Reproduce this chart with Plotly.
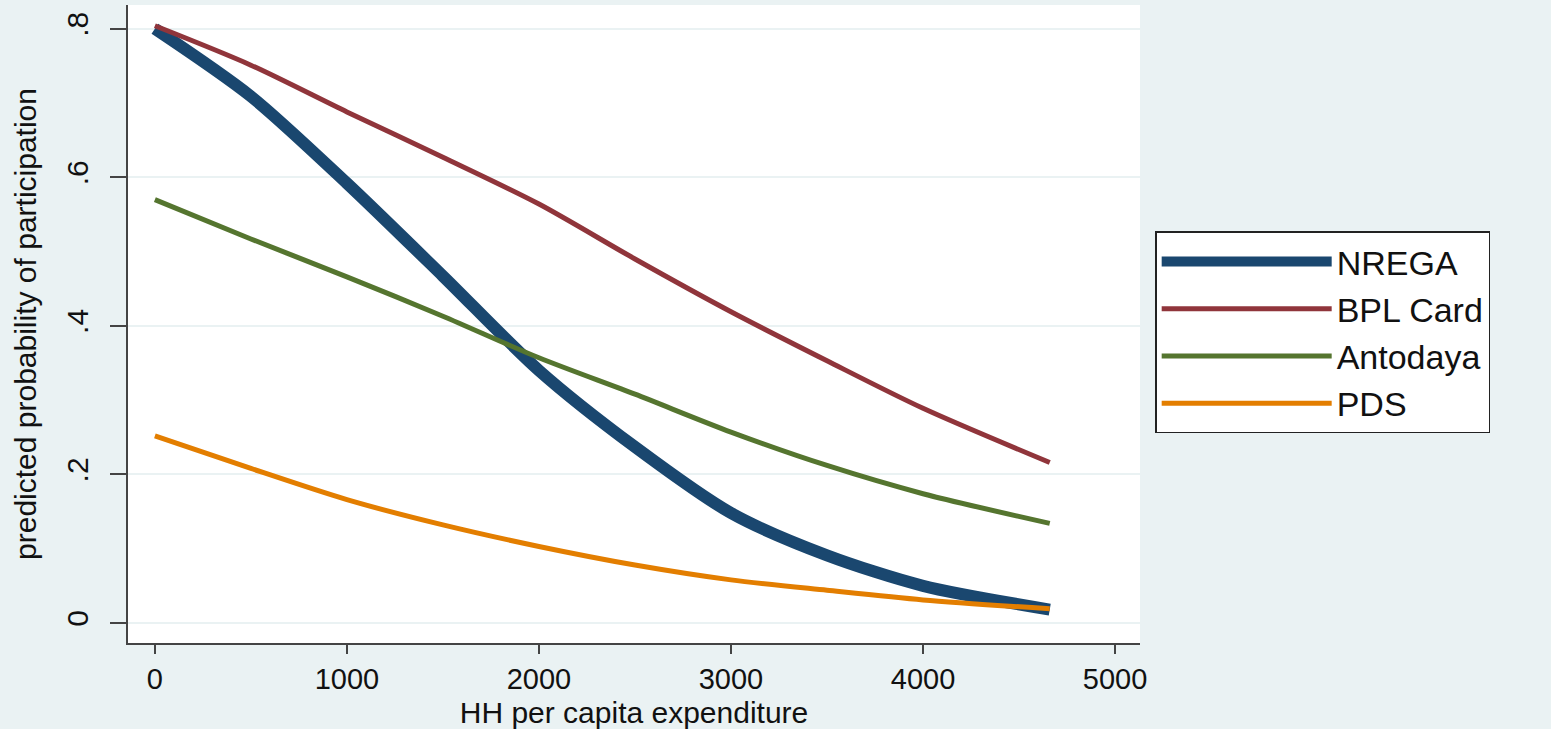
import plotly.graph_objects as go

# HH per capita expenditure (x) and predicted probabilities
expenditure = [0, 500, 1000, 1500, 2000, 2500, 3000, 3500, 4000, 4660]
nrega = [0.800, 0.709, 0.592, 0.467, 0.340, 0.237, 0.148, 0.091, 0.050, 0.018]
bpl_card = [0.804, 0.751, 0.688, 0.627, 0.564, 0.490, 0.419, 0.353, 0.289, 0.216]
antodaya = [0.570, 0.517, 0.466, 0.413, 0.357, 0.308, 0.257, 0.212, 0.174, 0.134]
pds = [0.252, 0.208, 0.166, 0.132, 0.103, 0.078, 0.058, 0.044, 0.031, 0.019]

series_names = ["NREGA", "BPL Card", "Antodaya", "PDS"]
x_ticks = [0, 1000, 2000, 3000, 4000, 5000]
y_ticks = [0, 0.2, 0.4, 0.6, 0.8]
y_tick_labels = ["0", ".2", ".4", ".6", ".8"]

colors = ["#1a476f", "#90353b", "#55752f", "#e37e00"]
widths = [12, 5, 5, 5]
BG = "#eaf2f3"
FONT = "Arial, Liberation Sans, sans-serif"

fig = go.Figure()
for name, vals, c, w in zip(series_names, [nrega, bpl_card, antodaya, pds], colors, widths):
    fig.add_trace(go.Scatter(
        x=expenditure, y=vals, name=name, mode="lines",
        line=dict(color=c, width=w, shape="spline", smoothing=0.8),
    ))

fig.update_layout(
    width=1551, height=729,
    paper_bgcolor=BG, plot_bgcolor="white",
    margin=dict(l=128, r=411, t=5, b=84),
    font=dict(family=FONT, color="#111111"),
    showlegend=True,
    legend=dict(
        x=1.015, xanchor="left", y=0.645, yanchor="top",
        bgcolor="white", bordercolor="#222222", borderwidth=1.5,
        font=dict(size=34, family=FONT, color="#111111"),
        itemwidth=170, tracegroupgap=0,
    ),
)
fig.update_xaxes(
    range=[-140, 5130], tickvals=x_ticks, ticktext=[str(v) for v in x_ticks],
    showgrid=False, zeroline=False,
    showline=True, linecolor="#444444", linewidth=2,
    ticks="outside", ticklen=9, tickwidth=2, tickcolor="#444444",
    tickfont=dict(size=29, family=FONT, color="#111111"),
    title=dict(text="HH per capita expenditure", font=dict(size=30, family=FONT, color="#111111"), standoff=8),
)
fig.update_yaxes(
    range=[-0.027, 0.832], tickvals=y_ticks, ticktext=y_tick_labels, tickangle=-90,
    showgrid=True, gridcolor=BG, gridwidth=2, zeroline=False,
    showline=True, linecolor="#444444", linewidth=2,
    ticks="outside", ticklen=16, tickwidth=2, tickcolor="#444444",
    ticklabelstandoff=10,
    tickfont=dict(size=30, family=FONT, color="#111111"),
    title=dict(text="predicted probability of participation", font=dict(size=30, family=FONT, color="#111111"), standoff=16),
)

fig.write_html(
    "out.html",
    config={"displayModeBar": False},
    post_script="document.body.style.margin='0';document.body.style.overflow='hidden';",
)
